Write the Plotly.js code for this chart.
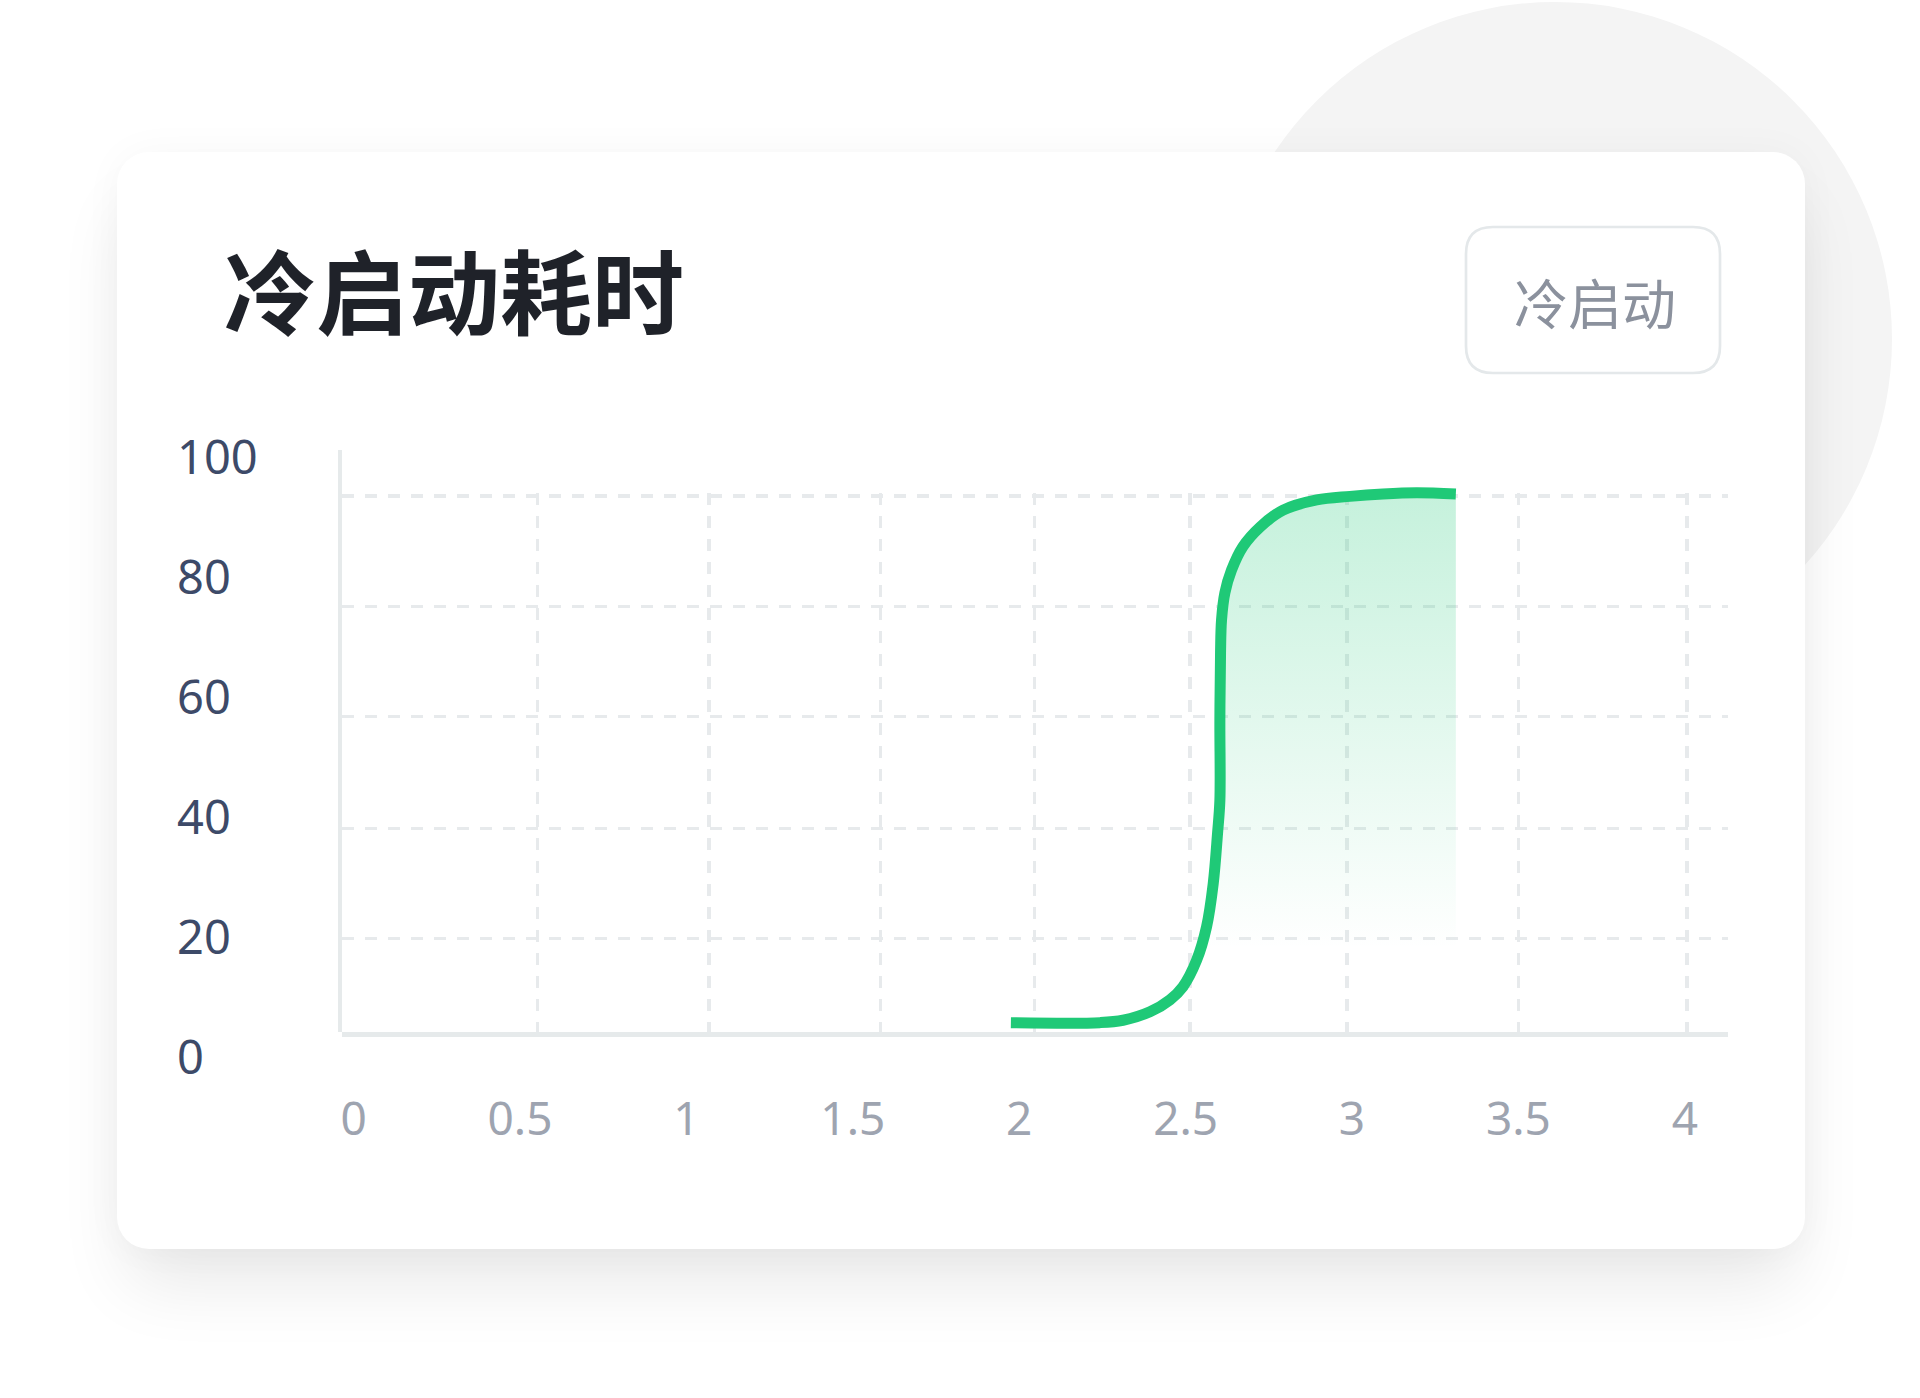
<!DOCTYPE html>
<html>
<head>
<meta charset="utf-8">
<script src="https://cdn.plot.ly/plotly-3.0.1.min.js"></script>
<style>
  html, body { margin: 0; padding: 0; background: #ffffff; overflow: hidden; }
  #blob {
    position: absolute; left: 1218px; top: 2px; width: 674px; height: 674px;
    border-radius: 50%; background: #f4f4f4;
  }
  #card {
    position: absolute; left: 117px; top: 152px; width: 1688px; height: 1097px;
    border-radius: 32px; background: #ffffff;
    box-shadow: 0 45px 70px -10px rgba(0, 0, 0, 0.09), 0 0 40px rgba(0, 0, 0, 0.035);
  }
  #plot { position: absolute; left: 0; top: 0; width: 1920px; height: 1398px; }
</style>
</head>
<body>
<div id="blob"></div>
<div id="card"></div>
<div id="plot"></div>
<script>
// cold start curve (x: seconds, y: value)
const startX = [1.975, 2.243, 2.312, 2.393, 2.453, 2.492, 2.533, 2.563, 2.583, 2.596, 2.603,
  2.603, 2.605, 2.608, 2.618, 2.638, 2.672, 2.724, 2.793, 2.894, 2.994, 3.093, 3.194, 3.312];
const startY = [5.8, 5.8, 6.2, 7.6, 9.6, 11.8, 16.2, 21.8, 29.0, 37.4, 42.9,
  56.3, 67.5, 73.0, 77.5, 81.3, 85.2, 88.5, 91.3, 93.0, 93.6, 94.0, 94.2, 94.0];

const xTicks = [0, 0.5, 1, 1.5, 2, 2.5, 3, 3.5, 4];
const xTickText = ["0", "0.5", "1", "1.5", "2", "2.5", "3", "3.5", "4"];
const yTicks = [0, 20, 40, 60, 80, 100];

const chartTitle = "冷启动耗时";
const buttonLabel = "冷启动";

// page is 1920 x 1398, helpers for paper coords
const W = 1920, H = 1398;
const px = (v) => v / W;
const py = (v) => 1 - v / H;

// grid frame (pixel units) - the dashed grid is not spaced like the labels
const frame = { left: 342, right: 1728, top: 450, gridTop: 493, bottom: 1032 };
const gridX = [537.7, 709, 880.4, 1034.7, 1190, 1347, 1518.4, 1687];
const gridY = [496, 606.7, 716.7, 828.3, 938.3];

// label scale
const xPx0 = 353.6, xPxPerUnit = 332.8;
const yPx0 = 1057.4, yPxPerUnit = 5.994;

function roundRect(x0, y0, x1, y1, r) {
  const rx = r / W, ry = r / H;
  const L = px(x0), R = px(x1), T = py(y0), B = py(y1);
  return `M ${L + rx},${T} L ${R - rx},${T} Q ${R},${T} ${R},${T - ry} ` +
    `L ${R},${B + ry} Q ${R},${B} ${R - rx},${B} L ${L + rx},${B} ` +
    `Q ${L},${B} ${L},${B + ry} L ${L},${T - ry} Q ${L},${T} ${L + rx},${T} Z`;
}

const green = "#1fc977";
const frameColor = "#e6eaeb";
const gridStyle = { showgrid: true, gridcolor: "#e7eaec", gridwidth: 3.5, griddash: "12px,11px" };

const gridTrace = {
  x: [], y: [], xaxis: "x", yaxis: "y",
  type: "scatter", mode: "lines", hoverinfo: "skip", showlegend: false,
};
const spineTrace = {
  x: [], y: [], xaxis: "x3", yaxis: "y3",
  type: "scatter", mode: "lines", hoverinfo: "skip", showlegend: false,
};

const curveTrace = {
  x: startX,
  y: startY,
  xaxis: "x2",
  yaxis: "y2",
  type: "scatter",
  mode: "lines",
  line: { color: green, width: 11, shape: "spline", smoothing: 1 },
  fill: "tozeroy",
  fillgradient: {
    type: "vertical",
    start: 18,
    stop: 95,
    colorscale: [[0, "rgba(31,201,119,0)"], [1, "rgba(31,201,119,0.26)"]],
  },
  hoverinfo: "skip",
  showlegend: false,
  cliponaxis: false,
};

const hidden = {
  showticklabels: false, ticks: "", showgrid: false, zeroline: false, fixedrange: true,
};

const layout = {
  width: W,
  height: H,
  margin: { l: 0, r: 0, t: 0, b: 0 },
  paper_bgcolor: "rgba(0,0,0,0)",
  plot_bgcolor: "rgba(0,0,0,0)",
  showlegend: false,
  title: {
    text: chartTitle,
    x: px(224),
    xanchor: "left",
    xref: "paper",
    y: py(296),
    yanchor: "middle",
    yref: "paper",
    font: { family: "Noto Sans CJK SC", size: 92, color: "#1f2229", weight: 700 },
  },
  // dashed grid + bottom axis line
  xaxis: Object.assign({
    domain: [px(frame.left), px(frame.right)],
    range: [frame.left, frame.right],
    anchor: "y",
    tickmode: "array",
    tickvals: gridX,
    showticklabels: false,
    ticks: "",
    zeroline: false,
    showline: true,
    linecolor: frameColor,
    linewidth: 4.5,
    fixedrange: true,
  }, gridStyle),
  yaxis: Object.assign({
    domain: [py(frame.bottom), py(frame.gridTop)],
    range: [frame.bottom, frame.gridTop],
    anchor: "x",
    tickmode: "array",
    tickvals: gridY,
    showticklabels: false,
    ticks: "",
    zeroline: false,
    showline: false,
    fixedrange: true,
  }, gridStyle),
  // left spine, taller than the grid
  xaxis3: Object.assign({
    domain: [px(frame.left), px(frame.right)],
    range: [0, 1],
    anchor: "y3",
    showline: false,
  }, hidden),
  yaxis3: Object.assign({
    domain: [py(frame.bottom), py(frame.top)],
    range: [0, 1],
    anchor: "x3",
    showline: true,
    linecolor: frameColor,
    linewidth: 4.5,
  }, hidden),
  // value axes carrying the labels
  xaxis2: {
    domain: [px(frame.left), px(frame.right)],
    range: [(frame.left - xPx0) / xPxPerUnit, (frame.right - xPx0) / xPxPerUnit],
    anchor: "free",
    position: py(1088),
    tickmode: "array",
    tickvals: xTicks,
    ticktext: xTickText,
    ticks: "",
    showgrid: false,
    zeroline: false,
    showline: false,
    tickfont: { family: "Noto Sans", size: 46, color: "#9ea4b0" },
    fixedrange: true,
  },
  yaxis2: {
    domain: [py(yPx0 + 3), py(yPx0 - 100.5 * yPxPerUnit)],
    range: [-0.5, 100.5],
    anchor: "free",
    side: "right",
    position: px(176),
    tickmode: "array",
    tickvals: yTicks,
    ticks: "",
    showgrid: false,
    zeroline: false,
    showline: false,
    tickfont: { family: "Noto Sans", size: 47, color: "#3d4a68" },
    fixedrange: true,
  },
  shapes: [
    {
      type: "path",
      xref: "paper",
      yref: "paper",
      path: roundRect(1466, 227, 1720, 373, 27),
      line: { color: "#e4e8ea", width: 2.7 },
      fillcolor: "rgba(255,255,255,0)",
    },
  ],
  annotations: [
    {
      text: buttonLabel,
      xref: "paper",
      yref: "paper",
      x: px(1595),
      y: py(301),
      xanchor: "center",
      yanchor: "middle",
      showarrow: false,
      font: { family: "Noto Sans CJK SC", size: 54, color: "#8b919d" },
    },
  ],
};

Plotly.newPlot("plot", [gridTrace, spineTrace, curveTrace], layout, { displayModeBar: false, staticPlot: true });
</script>
</body>
</html>
